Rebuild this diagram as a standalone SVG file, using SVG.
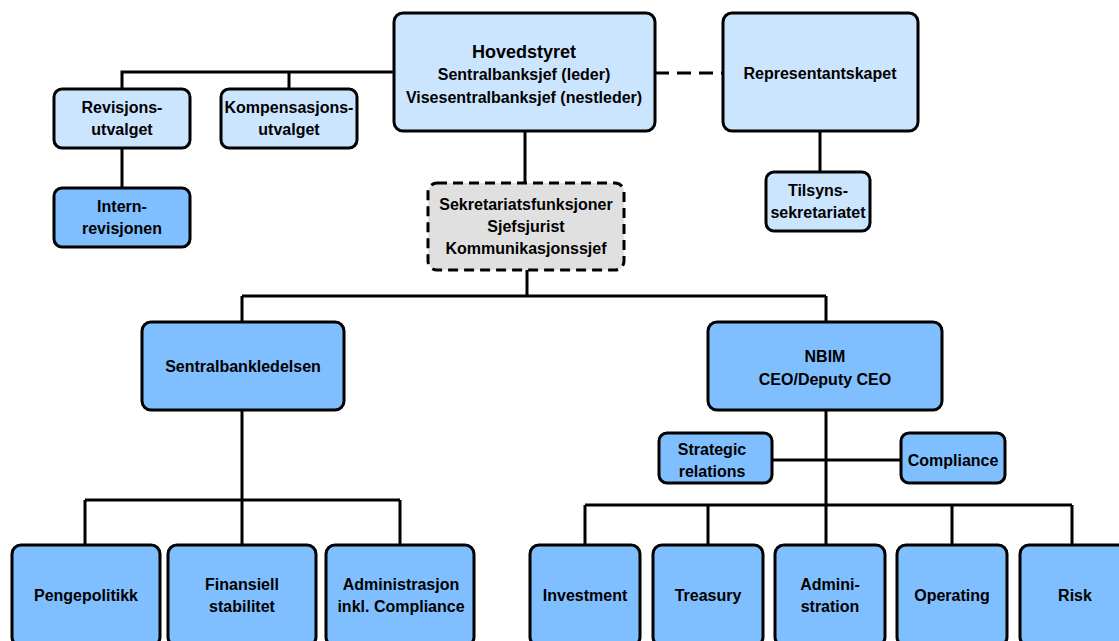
<svg xmlns="http://www.w3.org/2000/svg" width="1119" height="641" viewBox="0 0 1119 641">
<style>
.b{stroke:#000;stroke-width:3;}
.l{fill:#cce5ff;}
.d{fill:#80bfff;}
.g{fill:#e0e0e0;stroke-dasharray:10 6;}
.c{fill:none;stroke:#000;stroke-width:3;}
text{font-family:"Liberation Sans Narrow","Liberation Sans",Arial,sans-serif;font-weight:bold;font-size:16px;text-anchor:middle;fill:#000;}
.t{font-size:18px;}
</style>
<rect width="1119" height="641" fill="#fff"/>
<g id="connectors">
<path class="c" d="M394 72H122V89M289 72V89M122 148V188"/>
<path class="c" d="M655 73H723" stroke-dasharray="14 8"/>
<path class="c" d="M820 131V172"/>
<path class="c" d="M525 131V183"/>
<path class="c" d="M527 270V296M242 296H826M242 296V322M826 296V322"/>
<path class="c" d="M242 410V500M85 500H400M85 500V545M242 500V545M400 500V545"/>
<path class="c" d="M826 410V545M772 460H901M585 505H1072M585 505V545M708 505V545M952 505V545M1072 505V545"/>
</g>
<g id="hovedstyret"><rect class="b l" x="394" y="13" width="261" height="118" rx="9"/>
<text class="t" x="524" y="58">Hovedstyret</text><text x="524" y="80">Sentralbanksjef (leder)</text><text x="524" y="103">Visesentralbanksjef (nestleder)</text></g>
<g id="representantskapet"><rect class="b l" x="723" y="13" width="195" height="118" rx="9"/>
<text x="820" y="79">Representantskapet</text></g>
<g id="revisjonsutvalget"><rect class="b l" x="54" y="89" width="136" height="59" rx="8"/>
<text x="122" y="113">Revisjons-</text><text x="122" y="135">utvalget</text></g>
<g id="kompensasjonsutvalget"><rect class="b l" x="221" y="89" width="136" height="59" rx="8"/>
<text x="289" y="113">Kompensasjons-</text><text x="289" y="135">utvalget</text></g>
<g id="internrevisjonen"><rect class="b d" x="54" y="188" width="136" height="59" rx="8"/>
<text x="122" y="212">Intern-</text><text x="122" y="234">revisjonen</text></g>
<g id="tilsynssekretariatet"><rect class="b l" x="766" y="172" width="104" height="59" rx="8"/>
<text x="818" y="196">Tilsyns-</text><text x="818" y="218">sekretariatet</text></g>
<g id="sekretariat"><rect class="b g" x="428" y="183" width="196" height="87" rx="9"/>
<text x="526" y="210">Sekretariatsfunksjoner</text><text x="526" y="232">Sjefsjurist</text><text x="526" y="254">Kommunikasjonssjef</text></g>
<g id="sentralbankledelsen"><rect class="b d" x="142" y="322" width="202" height="88" rx="9"/>
<text x="243" y="372">Sentralbankledelsen</text></g>
<g id="nbim"><rect class="b d" x="708" y="322" width="234" height="88" rx="9"/>
<text x="825" y="362">NBIM</text><text x="825" y="385">CEO/Deputy CEO</text></g>
<g id="strategic"><rect class="b d" x="659" y="433" width="113" height="50" rx="8"/>
<text x="712" y="455">Strategic</text><text x="712" y="477">relations</text></g>
<g id="compliance"><rect class="b d" x="901" y="433" width="104" height="50" rx="8"/>
<text x="953" y="466">Compliance</text></g>
<g id="pengepolitikk"><rect class="b d" x="12" y="545" width="148" height="101" rx="9"/>
<text x="86" y="601">Pengepolitikk</text></g>
<g id="finansiell"><rect class="b d" x="168" y="545" width="148" height="101" rx="9"/>
<text x="242" y="590">Finansiell</text><text x="242" y="612">stabilitet</text></g>
<g id="administrasjon"><rect class="b d" x="326" y="545" width="148" height="101" rx="9"/>
<text x="401" y="590">Administrasjon</text><text x="401" y="612">inkl. Compliance</text></g>
<g id="investment"><rect class="b d" x="530" y="545" width="110" height="101" rx="9"/>
<text x="585" y="601">Investment</text></g>
<g id="treasury"><rect class="b d" x="653" y="545" width="110" height="101" rx="9"/>
<text x="708" y="601">Treasury</text></g>
<g id="administration"><rect class="b d" x="775" y="545" width="110" height="101" rx="9"/>
<text x="830" y="590">Admini-</text><text x="830" y="612">stration</text></g>
<g id="operating"><rect class="b d" x="897" y="545" width="110" height="101" rx="9"/>
<text x="952" y="601">Operating</text></g>
<g id="risk"><rect class="b d" x="1020" y="545" width="110" height="101" rx="9"/>
<text x="1075" y="601">Risk</text></g>
</svg>
